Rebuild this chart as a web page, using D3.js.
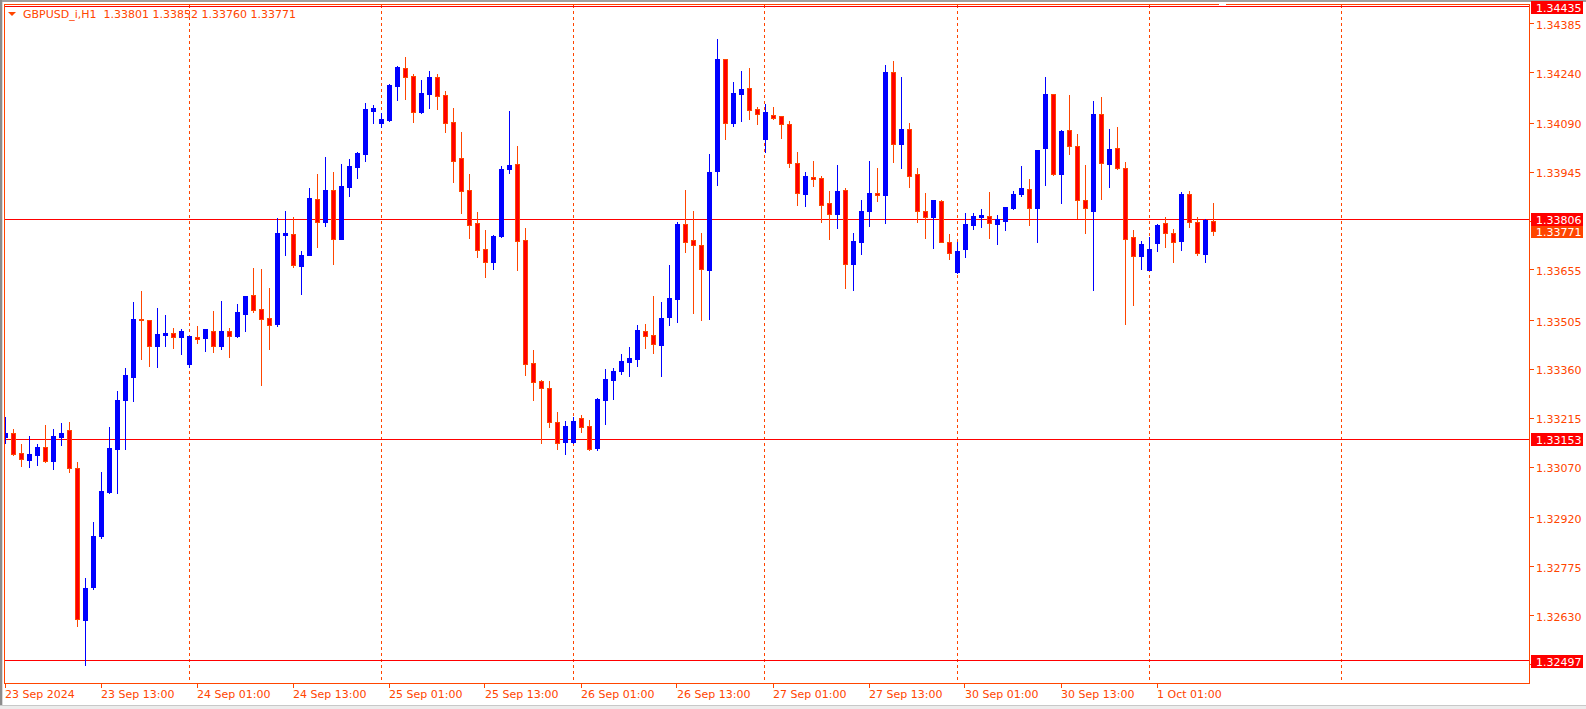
<!DOCTYPE html>
<html><head><meta charset="utf-8">
<script src="https://cdn.jsdelivr.net/npm/d3@7"></script>
<style>html,body{margin:0;padding:0;background:#fff;overflow:hidden}svg{display:block}</style>
</head><body><svg id="c" width="1586" height="709"></svg>
<script>
// ---- data (GBPUSD_i, H1, bar 0 = 23 Sep 2024 01:00) ----
const openP = [1.33159,1.33171,1.33112,1.33091,1.33106,1.33130,1.33088,1.33160,1.33180,1.33068,
1.32618,1.32716,1.32866,1.32997,1.33125,1.33270,1.33338,1.33509,1.33506,1.33430,
1.33463,1.33468,1.33457,1.33377,1.33456,1.33454,1.33474,1.33430,1.33474,1.33458,
1.33525,1.33581,1.33539,1.33512,1.33496,1.33759,1.33762,1.33668,1.33700,1.33865,
1.33798,1.33892,1.33748,1.33902,1.33961,1.34000,1.34127,1.34092,1.34100,1.34201,
1.34253,1.34230,1.34123,1.34178,1.34227,1.34174,1.34094,1.33987,1.33892,1.33794,
1.33717,1.33679,1.33756,1.33955,1.33969,1.33744,1.33379,1.33326,1.33305,1.33204,
1.33146,1.33146,1.33216,1.33192,1.33128,1.33269,1.33329,1.33355,1.33382,1.33391,
1.33474,1.33462,1.33433,1.33516,1.33570,1.33791,1.33744,1.33729,1.33656,1.33949,
1.34280,1.34092,1.34178,1.34194,1.34132,1.34044,1.34114,1.34111,1.34087,1.33972,
1.33881,1.33930,1.33928,1.33853,1.33822,1.33892,1.33674,1.33739,1.33831,1.33884,
1.33878,1.34242,1.34029,1.34073,1.33939,1.33830,1.33813,1.33859,1.33738,1.33650,
1.33717,1.33789,1.33813,1.33815,1.33792,1.33801,1.33840,1.33881,1.33895,1.33840,
1.34017,1.34177,1.33940,1.34070,1.34022,1.33862,1.33831,1.34117,1.33970,1.34017,
1.33957,1.33752,1.33697,1.33656,1.33736,1.33794,1.33764,1.33742,1.33880,1.33796,
1.33703,1.33801];
const highP = [1.33220,1.33183,1.33139,1.33163,1.33139,1.33195,1.33183,1.33201,1.33204,1.33086,
1.32742,1.32908,1.33056,1.33189,1.33296,1.33364,1.33560,1.33593,1.33508,1.33542,
1.33521,1.33483,1.33480,1.33459,1.33489,1.33480,1.33533,1.33563,1.33483,1.33554,
1.33578,1.33661,1.33658,1.33601,1.33809,1.33830,1.33812,1.33711,1.33898,1.33939,
1.33990,1.33945,1.33969,1.33984,1.34005,1.34151,1.34144,1.34121,1.34207,1.34261,
1.34286,1.34236,1.34218,1.34245,1.34236,1.34186,1.34135,1.34064,1.33939,1.33827,
1.33773,1.33759,1.33964,1.34126,1.34022,1.33779,1.33418,1.33329,1.33326,1.33234,
1.33207,1.33220,1.33225,1.33210,1.33275,1.33361,1.33364,1.33406,1.33427,1.33492,
1.33495,1.33579,1.33561,1.33670,1.33797,1.33893,1.33830,1.33765,1.34000,1.34340,
1.34280,1.34212,1.34245,1.34255,1.34138,1.34147,1.34138,1.34111,1.34098,1.34005,
1.33945,1.33978,1.33934,1.33889,1.33966,1.33898,1.33764,1.33862,1.33978,1.33957,
1.34263,1.34275,1.34227,1.34091,1.33957,1.33884,1.33862,1.33862,1.33762,1.33738,
1.33824,1.33824,1.33836,1.33886,1.33818,1.33842,1.33889,1.33963,1.33925,1.34011,
1.34227,1.34177,1.34070,1.34174,1.34058,1.33966,1.34156,1.34168,1.34073,1.34079,
1.33975,1.33773,1.33741,1.33753,1.33792,1.33812,1.33776,1.33886,1.33889,1.33812,
1.33806,1.33852];
const lowP = [1.33143,1.33106,1.33075,1.33071,1.33077,1.33086,1.33065,1.33136,1.33056,1.32600,
1.32484,1.32710,1.32861,1.32994,1.32994,1.33125,1.33267,1.33392,1.33371,1.33368,
1.33430,1.33424,1.33407,1.33368,1.33437,1.33416,1.33413,1.33421,1.33398,1.33456,
1.33475,1.33531,1.33315,1.33421,1.33490,1.33700,1.33665,1.33585,1.33700,1.33724,
1.33786,1.33674,1.33748,1.33875,1.33929,1.33979,1.34092,1.34080,1.34098,1.34160,
1.34163,1.34095,1.34121,1.34136,1.34133,1.34065,1.33917,1.33825,1.33751,1.33694,
1.33635,1.33659,1.33754,1.33943,1.33656,1.33344,1.33270,1.33143,1.33190,1.33125,
1.33110,1.33142,1.33175,1.33121,1.33121,1.33198,1.33272,1.33347,1.33341,1.33371,
1.33424,1.33410,1.33341,1.33493,1.33502,1.33709,1.33528,1.33507,1.33510,1.33908,
1.34044,1.34083,1.34098,1.34103,1.34089,1.34006,1.34103,1.34047,1.33961,1.33848,
1.33845,1.33905,1.33798,1.33748,1.33780,1.33602,1.33596,1.33703,1.33786,1.33860,
1.33795,1.33976,1.33958,1.33902,1.33798,1.33751,1.33721,1.33737,1.33688,1.33647,
1.33694,1.33777,1.33783,1.33751,1.33733,1.33774,1.33837,1.33875,1.33789,1.33739,
1.33908,1.33937,1.33854,1.34000,1.33810,1.33765,1.33596,1.33866,1.33902,1.33955,
1.33496,1.33552,1.33659,1.33654,1.33712,1.33724,1.33679,1.33715,1.33783,1.33700,
1.33679,1.33760];
const closeP = [1.33171,1.33109,1.33095,1.33109,1.33130,1.33088,1.33163,1.33171,1.33069,1.32621,
1.32712,1.32866,1.32999,1.33127,1.33269,1.33343,1.33510,1.33507,1.33430,1.33465,
1.33469,1.33457,1.33474,1.33459,1.33449,1.33480,1.33430,1.33474,1.33460,1.33530,
1.33578,1.33537,1.33510,1.33493,1.33764,1.33764,1.33671,1.33699,1.33868,1.33798,
1.33892,1.33748,1.33904,1.33963,1.34002,1.34132,1.34135,1.34103,1.34204,1.34257,
1.34228,1.34124,1.34180,1.34227,1.34172,1.34092,1.33979,1.33890,1.33789,1.33715,
1.33679,1.33756,1.33954,1.33966,1.33742,1.33377,1.33324,1.33306,1.33205,1.33143,
1.33192,1.33207,1.33190,1.33125,1.33272,1.33332,1.33355,1.33385,1.33394,1.33477,
1.33460,1.33436,1.33512,1.33572,1.33791,1.33739,1.33730,1.33659,1.33945,1.34280,
1.34092,1.34180,1.34191,1.34130,1.34118,1.34123,1.34106,1.34089,1.33971,1.33882,
1.33934,1.33924,1.33848,1.33822,1.33889,1.33674,1.33741,1.33831,1.33883,1.33878,
1.34242,1.34029,1.34073,1.33934,1.33829,1.33813,1.33862,1.33739,1.33706,1.33711,
1.33791,1.33815,1.33818,1.33795,1.33806,1.33842,1.33880,1.33898,1.33840,1.34011,
1.34177,1.33940,1.34067,1.34022,1.33861,1.33838,1.34117,1.33971,1.34014,1.33956,
1.33748,1.33695,1.33731,1.33716,1.33788,1.33764,1.33739,1.33880,1.33798,1.33704,
1.33803,1.33771];

const timeLabels = ["23 Sep 2024","23 Sep 13:00","24 Sep 01:00","24 Sep 13:00","25 Sep 01:00",
"25 Sep 13:00","26 Sep 01:00","26 Sep 13:00","27 Sep 01:00","27 Sep 13:00","30 Sep 01:00",
"30 Sep 13:00","1 Oct 01:00"];
const timeLabelBars = [0,12,24,36,48,60,72,84,96,108,120,132,144];
const dayStartBars = [23,47,71,95,119,143,167];
const priceTicks = [1.34385,1.34240,1.34090,1.33945,1.33800,1.33655,1.33505,1.33360,1.33215,
1.33070,1.32920,1.32775,1.32630,1.32485];
const levelLines = [1.34435,1.33806,1.33153,1.32497];
const bidPrice = 1.33771;
const titleText = "GBPUSD_i,H1  1.33801 1.33852 1.33760 1.33771";

// ---- drawing ----
const FG = "#ff4500", BULL = "#0000ff", BEAR = "#ff0000", LVL = "#ff0000";
const FONT = "'DejaVu Sans', Verdana, sans-serif";
const L = 4, T = 4, R = 1529, B = 683;
const svg = d3.select("#c");

const x = d3.scaleLinear().domain([0, 151]).range([5, 1213]);
const y = d3.scaleLinear().domain([1.32497, 1.33806]).range([660.5, 219]);
const cr = v => Math.floor(v) + 0.5;

// window chrome
svg.append("rect").attr("x",0).attr("y",0).attr("width",1586).attr("height",709).attr("fill","#fff");
svg.append("rect").attr("x",0).attr("y",0).attr("width",1586).attr("height",2).attr("fill","#a0a0a0");
svg.append("rect").attr("x",0).attr("y",0).attr("width",2).attr("height",709).attr("fill","#8c8c8c");
svg.append("rect").attr("x",2).attr("y",2).attr("width",1).attr("height",707).attr("fill","#d8d8d8");
svg.append("rect").attr("x",0).attr("y",705).attr("width",1586).attr("height",4).attr("fill","#ececec");
svg.append("rect").attr("x",0).attr("y",705).attr("width",1586).attr("height",1).attr("fill","#c8c8c8");

svg.append("defs").append("clipPath").attr("id","plot")
  .append("rect").attr("x",L+1).attr("y",T+1).attr("width",R-L-1).attr("height",B-T-1);

// vertical day grid
svg.append("g").selectAll("line").data(dayStartBars).join("line")
  .attr("x1", d => cr(x(d))).attr("x2", d => cr(x(d)))
  .attr("y1", T+1).attr("y2", B)
  .attr("stroke", FG).attr("stroke-width",1).attr("stroke-dasharray","3,3");

// horizontal level lines
svg.append("g").selectAll("line").data(levelLines).join("line")
  .attr("x1", L+1).attr("x2", R)
  .attr("y1", d => cr(y(d))).attr("y2", d => cr(y(d)))
  .attr("stroke", LVL).attr("stroke-width",1);

// candles
const bars = openP.map((o,i) => ({i, o, h: highP[i], l: lowP[i], c: closeP[i]}));
const cg = svg.append("g").attr("clip-path","url(#plot)");
const g = cg.selectAll("g").data(bars).join("g");
g.append("rect")
  .attr("x", d => Math.round(x(d.i)))
  .attr("y", d => Math.round(y(d.h)))
  .attr("width", 1)
  .attr("height", d => Math.round(y(d.l)) - Math.round(y(d.h)) + 1)
  .attr("fill", d => d.c >= d.o ? BULL : FG);
g.append("rect")
  .attr("x", d => Math.round(x(d.i)) - 2)
  .attr("y", d => Math.round(y(Math.max(d.o,d.c))))
  .attr("width", 5)
  .attr("height", d => Math.round(y(Math.min(d.o,d.c))) - Math.round(y(Math.max(d.o,d.c))) + 1)
  .attr("fill", d => d.c >= d.o ? BULL : FG);
g.filter(d => d.c < d.o && (Math.round(y(d.c)) - Math.round(y(d.o))) > 1).append("rect")
  .attr("x", d => Math.round(x(d.i)) - 1)
  .attr("y", d => Math.round(y(d.o)) + 1)
  .attr("width", 3)
  .attr("height", d => Math.round(y(d.c)) - Math.round(y(d.o)) - 1)
  .attr("fill", BEAR);

// frame
const fr = svg.append("g").attr("stroke", FG).attr("stroke-width",1);
fr.append("line").attr("x1",L+0.5).attr("x2",L+0.5).attr("y1",T).attr("y2",B+1);
fr.append("line").attr("x1",L).attr("x2",R+1).attr("y1",T+0.5).attr("y2",T+0.5);
fr.append("line").attr("x1",R+0.5).attr("x2",R+0.5).attr("y1",T).attr("y2",B+1);
fr.append("line").attr("x1",L).attr("x2",R+1).attr("y1",B+0.5).attr("y2",B+0.5);
svg.append("rect").attr("x",1219).attr("y",T).attr("width",7).attr("height",2).attr("fill","#fff");

// time axis
const ta = svg.append("g");
ta.selectAll("line").data(timeLabelBars).join("line")
  .attr("x1", d => cr(x(d))).attr("x2", d => cr(x(d)))
  .attr("y1", B+1).attr("y2", B+5).attr("stroke", FG);
ta.selectAll("text").data(timeLabelBars).join("text")
  .attr("x", d => Math.round(x(d)))
  .attr("y", 698)
  .attr("font-family", FONT).attr("font-size", 11).attr("fill", FG)
  .text((d,k) => timeLabels[k]);

// price axis: tick marks for every level, labels only where no price box covers them
const boxed = levelLines.concat([bidPrice]);
const visibleTicks = priceTicks.filter(p => boxed.every(b => Math.abs(y(b) - y(p)) > 12));
const pa = svg.append("g");
pa.selectAll("line").data(priceTicks).join("line")
  .attr("x1", R+1).attr("x2", R+5)
  .attr("y1", d => cr(y(d))).attr("y2", d => cr(y(d))).attr("stroke", FG);
pa.selectAll("text").data(visibleTicks).join("text")
  .attr("x", 1536).attr("y", d => Math.round(y(d)) + 4.5)
  .attr("font-family", FONT).attr("font-size", 11).attr("fill", FG)
  .text(d => d.toFixed(5));

function priceBox(p, color) {
  const yy = Math.round(y(p));
  svg.append("rect").attr("x",1531).attr("y",yy-6).attr("width",52).attr("height",13).attr("fill",color);
  svg.append("text").attr("x",1536).attr("y",yy+4.5)
    .attr("font-family",FONT).attr("font-size",11).attr("fill","#fff").text(p.toFixed(5));
}
priceBox(bidPrice, FG);
levelLines.forEach(p => priceBox(p, LVL));

// title
svg.append("path").attr("d","M8,12 L16,12 L12,16 Z").attr("fill", FG);
svg.append("text").attr("x",23).attr("y",18)
  .attr("font-family",FONT).attr("font-size",11).attr("fill",FG)
  .attr("xml:space","preserve").style("white-space","pre")
  .text(titleText);
</script>
</body></html>
